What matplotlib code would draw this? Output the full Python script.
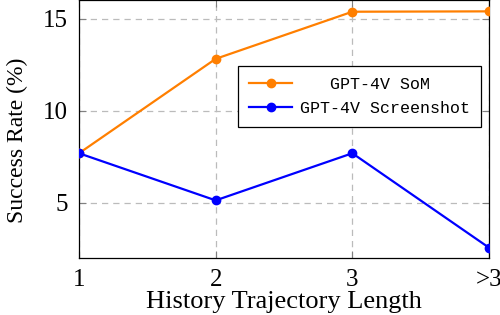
import matplotlib
matplotlib.use("Agg")
import matplotlib.pyplot as plt

# data
categories = ["1", "2", "3", ">3"]
som_values = [7.69, 12.82, 15.38, 15.40]
screenshot_values = [7.69, 5.13, 7.69, 2.56]
som_label = "   GPT-4V SoM"
screenshot_label = "GPT-4V Screenshot"

plt.rcParams["font.family"] = ["Liberation Serif", "DejaVu Serif"]

dpi = 100
fig = plt.figure(figsize=(500 / dpi, 315 / dpi), dpi=dpi)
ax = fig.add_axes([0.158, 0.181, 0.820, 0.818])

x = list(range(1, len(categories) + 1))
ax.plot(x, som_values, color="#FF7F00", lw=1.6, marker="o", markersize=6, label=som_label, zorder=3)
ax.plot(x, screenshot_values, color="#0000FF", lw=1.6, marker="o", markersize=6, label=screenshot_label, zorder=3)

ax.set_xlim(1, 4)
ax.set_ylim(2, 16)
ax.set_xticks(x)
ax.set_xticklabels(categories)
ax.set_yticks([5, 10, 15])

ax.grid(True, color="#BBBBBB", linestyle=(0, (5, 4)), lw=0.9)
ax.tick_params(axis="both", direction="in", length=5, width=0.8, color="#808080",
               labelsize=18, pad=8, top=True, right=True)
for spine in ax.spines.values():
    spine.set_color("black")
    spine.set_linewidth(0.9)

ax.set_xlabel("History Trajectory Length", fontsize=19, labelpad=0)
ax.set_ylabel("Success Rate (%)", fontsize=17)
ax.yaxis.set_label_coords(-0.125, 0.457)

leg = ax.legend(loc="upper right", bbox_to_anchor=(0.980, 0.744), borderaxespad=0,
                fancybox=False, framealpha=1, edgecolor="black",
                handlelength=2.6, handletextpad=0.45, labelspacing=0.55, borderpad=0.65,
                prop={"family": ["Liberation Mono", "DejaVu Sans Mono"], "size": 12})
leg.get_frame().set_linewidth(0.9)

fig.savefig("out.png", dpi=dpi)
